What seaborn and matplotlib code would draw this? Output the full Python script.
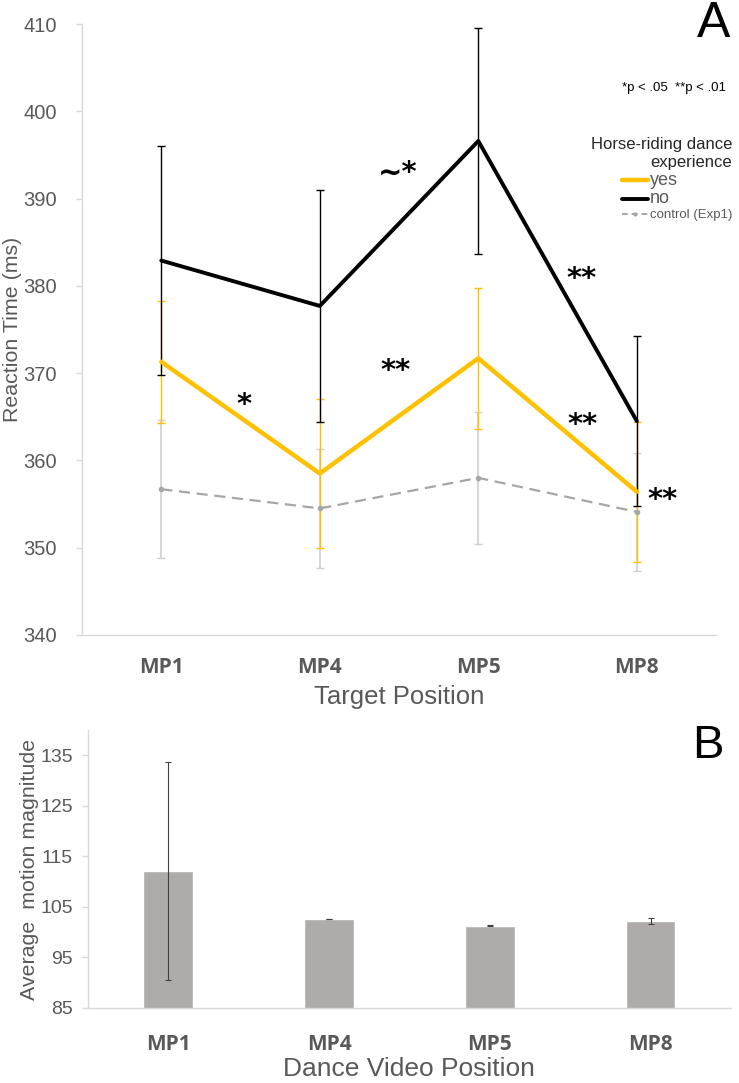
import seaborn as sns
import pandas as pd
import numpy as np
import matplotlib.pyplot as plt
from matplotlib.lines import Line2D

# panel A data
positions = ['MP1', 'MP4', 'MP5', 'MP8']
rt_yes = [371.3, 358.5, 371.7, 356.4]
err_yes = [7.0, 8.5, 8.1, 8.0]
rt_no = [382.9, 377.7, 396.6, 364.5]
err_no = [13.1, 13.3, 13.0, 9.7]
rt_ctrl = [356.7, 354.5, 358.0, 354.1]
err_ctrl = [7.9, 6.8, 7.6, 6.8]

# panel B data
motion = [112.1, 102.6, 101.3, 102.2]
motion_err = [21.6, 0.05, 0.05, 0.6]

sns.set_theme(style="white")
plt.rcParams['font.family'] = ['Liberation Sans', 'DejaVu Sans']

gold = '#FFC000'
grey_line = '#A6A6A6'
axis_col = '#D9D9D9'
txt_col = '#595959'

fig = plt.figure(figsize=(7.39, 10.83), dpi=100)
ax = fig.add_axes([0.111, 0.4137, 0.858, 0.5641])

xs = np.arange(len(positions))
df = pd.DataFrame({
    'pos': positions * 3,
    'x': list(xs) * 3,
    'rt': rt_ctrl + rt_yes + rt_no,
    'group': ['control'] * 4 + ['yes'] * 4 + ['no'] * 4,
})

# error bars first so lines sit on top
ax.errorbar(xs, rt_ctrl, yerr=err_ctrl, fmt='none', ecolor='#CFCFCF', elinewidth=1.2, capsize=3, capthick=1)
ax.errorbar(xs, rt_yes, yerr=err_yes, fmt='none', ecolor=gold, elinewidth=1.0, capsize=3, capthick=1)
ax.errorbar(xs, rt_no, yerr=err_no, fmt='none', ecolor='black', elinewidth=1.0, capsize=3, capthick=1)

sns.lineplot(data=df[df.group == 'control'], x='x', y='rt', ax=ax, color=grey_line,
             linewidth=1.6, linestyle=(0, (5, 3)), marker='o', markersize=4,
             markeredgewidth=0, legend=False)
sns.lineplot(data=df[df.group == 'yes'], x='x', y='rt', ax=ax, color=gold,
             linewidth=3.2, legend=False)
sns.lineplot(data=df[df.group == 'no'], x='x', y='rt', ax=ax, color='black',
             linewidth=2.8, legend=False)

ax.set_xlim(-0.5, 3.5)
ax.set_ylim(340, 410)
ax.set_yticks(range(340, 411, 10))
ax.set_xticks(xs)
ax.set_xticklabels(positions, fontsize=15, fontweight='bold', color=txt_col, family='Open Sans')
ax.tick_params(axis='y', labelsize=14.5, labelcolor=txt_col, length=4, color=axis_col, left=True,
               width=1, pad=14)
ax.tick_params(axis='x', length=0, pad=16)
ax.set_xlabel('Target Position', fontsize=18.5, color=txt_col, labelpad=5)
ax.set_ylabel('Reaction Time (ms)', fontsize=15.4, color=txt_col, labelpad=1)
for s in ['top', 'right']:
    ax.spines[s].set_visible(False)
for s in ['left', 'bottom']:
    ax.spines[s].set_color(axis_col)
    ax.spines[s].set_linewidth(1)

# significance marks
star_kw = dict(fontsize=21, fontweight='bold', color='black', ha='center', va='center',
               family='DejaVu Sans')
ax.text(0.52, 366.4, '*', **star_kw)
ax.text(1.48, 370.2, '**', **star_kw)
ax.text(1.49, 393.0, '~*', **star_kw)
ax.text(2.65, 380.8, '**', **star_kw)
ax.text(2.66, 364.1, '**', **star_kw)
ax.text(3.16, 355.5, '**', **star_kw)

fig.text(0.965, 0.9658, 'A', fontsize=36, ha='center', va='baseline', color='black')
fig.text(0.983, 0.919, '*p < .05  **p < .01', fontsize=9.5, ha='right', va='center', color='black')

handles = [Line2D([0], [0], color=gold, lw=3.2),
           Line2D([0], [0], color='black', lw=2.8),
           Line2D([0], [0], color=grey_line, lw=1.4, ls=(0, (3, 2)), marker='o', markersize=3, markeredgewidth=0)]
leg = ax.legend(handles, ['yes', 'no', 'control (Exp1)'], title='Horse-riding dance\nexperience',
                loc='upper right', bbox_to_anchor=(0.999, 0.879), bbox_transform=fig.transFigure,
                frameon=False, alignment='right', handlelength=2.1, handletextpad=0.1,
                labelspacing=0.15, borderpad=0, title_fontsize=12, fontsize=9)
sizes = [13, 13, 9.5]
for t, s in zip(leg.get_texts(), sizes):
    t.set_fontsize(s)
    t.set_color(txt_col)
leg.get_title().set_multialignment('right')

# panel B
axb = fig.add_axes([0.119, 0.0693, 0.870, 0.2567])
dfb = pd.DataFrame({'pos': positions, 'motion': motion})
sns.barplot(data=dfb, x='pos', y='motion', ax=axb, color='#AFABAB', width=0.31,
            saturation=1, errorbar=None)
axb.errorbar(xs, motion, yerr=motion_err, fmt='none', ecolor='#404040', elinewidth=0.8,
             capsize=2, capthick=0.8)
axb.set_xlim(-0.5, 3.5)
axb.set_ylim(85, 140)
axb.set_yticks(range(85, 136, 10))
axb.set_xticks(xs)
axb.set_xticklabels(positions, fontsize=15, fontweight='bold', color=txt_col, family='Open Sans')
axb.tick_params(axis='y', labelsize=14, labelcolor=txt_col, length=4, color=axis_col, left=True,
                width=1, pad=7)
axb.tick_params(axis='x', length=0, pad=19)
axb.set_xlabel('Dance Video Position', fontsize=19, color=txt_col, labelpad=1)
axb.set_ylabel('Average  motion magnitude', fontsize=15.4, color=txt_col, labelpad=1)
for s in ['top', 'right']:
    axb.spines[s].set_visible(False)
for s in ['left', 'bottom']:
    axb.spines[s].set_color(axis_col)
    axb.spines[s].set_linewidth(1)

fig.text(0.958, 0.300, 'B', fontsize=34, ha='center', va='baseline', color='black')

fig.savefig('out.png', dpi=100)
